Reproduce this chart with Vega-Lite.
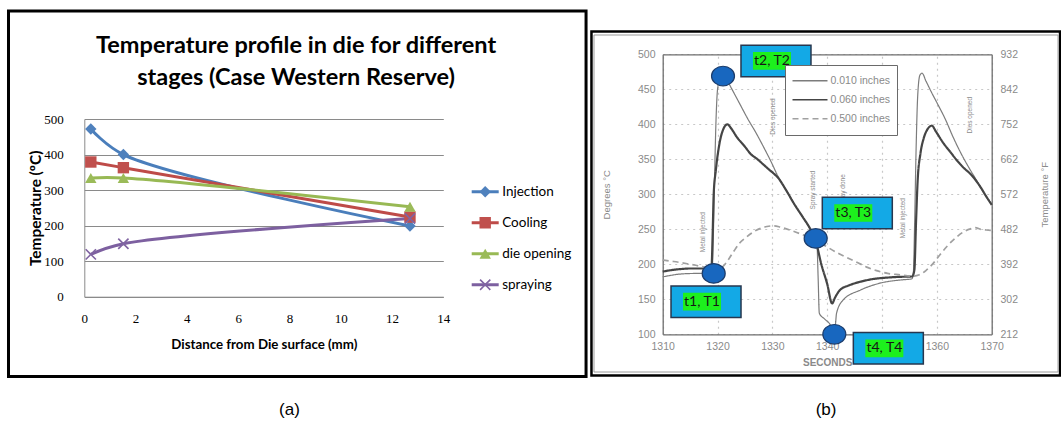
{
"$schema":"https://vega.github.io/schema/vega-lite/v6.json",
"width":1061,"height":446,"autosize":{"type":"none"},"padding":0,"background":"#ffffff",
"config":{"view":{"stroke":null},"axis":{"labelOverlap":false,"labelFlush":false,"labelBound":false}},
"datasets":{
"one":[{"k":1}],
"titleA":[{"title":"Temperature profile in die for different\nstages (Case Western Reserve)"}],
"capA":[{"caption":"(a)"}],
"capB":[{"caption":"(b)"}],
"profileA":[
{"stage":"Injection","distance_mm":0.254,"temperature_C":472},
{"stage":"Injection","distance_mm":1.524,"temperature_C":400},
{"stage":"Injection","distance_mm":12.7,"temperature_C":199},
{"stage":"Cooling","distance_mm":0.254,"temperature_C":379},
{"stage":"Cooling","distance_mm":1.524,"temperature_C":363},
{"stage":"Cooling","distance_mm":12.7,"temperature_C":224},
{"stage":"die opening","distance_mm":0.254,"temperature_C":334},
{"stage":"die opening","distance_mm":1.524,"temperature_C":334},
{"stage":"die opening","distance_mm":12.7,"temperature_C":253},
{"stage":"spraying","distance_mm":0.254,"temperature_C":119},
{"stage":"spraying","distance_mm":1.524,"temperature_C":149},
{"stage":"spraying","distance_mm":12.7,"temperature_C":220}
],
"cycleB":[
{"depth":"0.010 inches","seconds":1310,"temperature_C":182},
{"depth":"0.010 inches","seconds":1311,"temperature_C":183.5},
{"depth":"0.010 inches","seconds":1312.5,"temperature_C":185.5},
{"depth":"0.010 inches","seconds":1314,"temperature_C":186.5},
{"depth":"0.010 inches","seconds":1316,"temperature_C":187},
{"depth":"0.010 inches","seconds":1318.5,"temperature_C":187.5},
{"depth":"0.010 inches","seconds":1319.0,"temperature_C":189},
{"depth":"0.010 inches","seconds":1319.2,"temperature_C":230},
{"depth":"0.010 inches","seconds":1319.45,"temperature_C":320},
{"depth":"0.010 inches","seconds":1319.7,"temperature_C":400},
{"depth":"0.010 inches","seconds":1320.0,"temperature_C":450},
{"depth":"0.010 inches","seconds":1320.4,"temperature_C":466},
{"depth":"0.010 inches","seconds":1320.9,"temperature_C":471},
{"depth":"0.010 inches","seconds":1321.4,"temperature_C":468},
{"depth":"0.010 inches","seconds":1322.5,"temperature_C":452},
{"depth":"0.010 inches","seconds":1324,"temperature_C":430},
{"depth":"0.010 inches","seconds":1325.5,"temperature_C":408},
{"depth":"0.010 inches","seconds":1327,"temperature_C":388},
{"depth":"0.010 inches","seconds":1328.5,"temperature_C":366},
{"depth":"0.010 inches","seconds":1329.8,"temperature_C":346},
{"depth":"0.010 inches","seconds":1331,"temperature_C":326},
{"depth":"0.010 inches","seconds":1332.5,"temperature_C":306},
{"depth":"0.010 inches","seconds":1334,"temperature_C":286},
{"depth":"0.010 inches","seconds":1335.5,"temperature_C":268},
{"depth":"0.010 inches","seconds":1336.8,"temperature_C":252},
{"depth":"0.010 inches","seconds":1338.1,"temperature_C":234},
{"depth":"0.010 inches","seconds":1338.35,"temperature_C":180},
{"depth":"0.010 inches","seconds":1338.56,"temperature_C":130},
{"depth":"0.010 inches","seconds":1339.5,"temperature_C":122},
{"depth":"0.010 inches","seconds":1340.6,"temperature_C":113},
{"depth":"0.010 inches","seconds":1341.1,"temperature_C":104},
{"depth":"0.010 inches","seconds":1341.5,"temperature_C":114},
{"depth":"0.010 inches","seconds":1341.7,"temperature_C":130},
{"depth":"0.010 inches","seconds":1342.9,"temperature_C":149},
{"depth":"0.010 inches","seconds":1346,"temperature_C":163},
{"depth":"0.010 inches","seconds":1349.6,"temperature_C":173},
{"depth":"0.010 inches","seconds":1353.9,"temperature_C":178},
{"depth":"0.010 inches","seconds":1355.4,"temperature_C":179},
{"depth":"0.010 inches","seconds":1355.7,"temperature_C":186},
{"depth":"0.010 inches","seconds":1355.95,"temperature_C":260},
{"depth":"0.010 inches","seconds":1356.2,"temperature_C":360},
{"depth":"0.010 inches","seconds":1356.5,"temperature_C":440},
{"depth":"0.010 inches","seconds":1356.9,"temperature_C":470},
{"depth":"0.010 inches","seconds":1357.3,"temperature_C":473},
{"depth":"0.010 inches","seconds":1358,"temperature_C":462},
{"depth":"0.010 inches","seconds":1359,"temperature_C":446},
{"depth":"0.010 inches","seconds":1360,"temperature_C":431},
{"depth":"0.010 inches","seconds":1361.5,"temperature_C":408},
{"depth":"0.010 inches","seconds":1363,"temperature_C":381},
{"depth":"0.010 inches","seconds":1364.5,"temperature_C":357},
{"depth":"0.010 inches","seconds":1366,"temperature_C":336},
{"depth":"0.010 inches","seconds":1367,"temperature_C":323},
{"depth":"0.010 inches","seconds":1367.9,"temperature_C":311},
{"depth":"0.010 inches","seconds":1369,"temperature_C":297},
{"depth":"0.010 inches","seconds":1370,"temperature_C":285},
{"depth":"0.060 inches","seconds":1310,"temperature_C":189.5},
{"depth":"0.060 inches","seconds":1311,"temperature_C":191},
{"depth":"0.060 inches","seconds":1313,"temperature_C":193},
{"depth":"0.060 inches","seconds":1315,"temperature_C":194},
{"depth":"0.060 inches","seconds":1318.5,"temperature_C":194},
{"depth":"0.060 inches","seconds":1318.9,"temperature_C":196},
{"depth":"0.060 inches","seconds":1319.1,"temperature_C":240},
{"depth":"0.060 inches","seconds":1319.3,"temperature_C":300},
{"depth":"0.060 inches","seconds":1319.7,"temperature_C":335},
{"depth":"0.060 inches","seconds":1320.3,"temperature_C":370},
{"depth":"0.060 inches","seconds":1320.9,"temperature_C":390},
{"depth":"0.060 inches","seconds":1321.8,"temperature_C":400},
{"depth":"0.060 inches","seconds":1322.5,"temperature_C":394},
{"depth":"0.060 inches","seconds":1323.5,"temperature_C":382},
{"depth":"0.060 inches","seconds":1325,"temperature_C":368},
{"depth":"0.060 inches","seconds":1326,"temperature_C":358},
{"depth":"0.060 inches","seconds":1327.3,"temperature_C":350},
{"depth":"0.060 inches","seconds":1328.3,"temperature_C":343},
{"depth":"0.060 inches","seconds":1329.3,"temperature_C":336},
{"depth":"0.060 inches","seconds":1330.2,"temperature_C":330},
{"depth":"0.060 inches","seconds":1331,"temperature_C":324},
{"depth":"0.060 inches","seconds":1332.5,"temperature_C":306},
{"depth":"0.060 inches","seconds":1334,"temperature_C":286},
{"depth":"0.060 inches","seconds":1335.5,"temperature_C":268},
{"depth":"0.060 inches","seconds":1336.8,"temperature_C":252},
{"depth":"0.060 inches","seconds":1337.8,"temperature_C":236},
{"depth":"0.060 inches","seconds":1339,"temperature_C":198},
{"depth":"0.060 inches","seconds":1340,"temperature_C":172},
{"depth":"0.060 inches","seconds":1340.9,"temperature_C":144},
{"depth":"0.060 inches","seconds":1341.4,"temperature_C":152},
{"depth":"0.060 inches","seconds":1342.3,"temperature_C":163},
{"depth":"0.060 inches","seconds":1344,"temperature_C":170},
{"depth":"0.060 inches","seconds":1346,"temperature_C":175},
{"depth":"0.060 inches","seconds":1348.4,"temperature_C":179},
{"depth":"0.060 inches","seconds":1350.9,"temperature_C":181},
{"depth":"0.060 inches","seconds":1353,"temperature_C":182},
{"depth":"0.060 inches","seconds":1355.5,"temperature_C":182.6},
{"depth":"0.060 inches","seconds":1355.9,"temperature_C":192},
{"depth":"0.060 inches","seconds":1356.2,"temperature_C":260},
{"depth":"0.060 inches","seconds":1356.5,"temperature_C":320},
{"depth":"0.060 inches","seconds":1357,"temperature_C":358},
{"depth":"0.060 inches","seconds":1357.6,"temperature_C":380},
{"depth":"0.060 inches","seconds":1358.3,"temperature_C":393},
{"depth":"0.060 inches","seconds":1359.1,"temperature_C":398},
{"depth":"0.060 inches","seconds":1359.8,"temperature_C":390},
{"depth":"0.060 inches","seconds":1361.2,"temperature_C":373},
{"depth":"0.060 inches","seconds":1362.5,"temperature_C":360},
{"depth":"0.060 inches","seconds":1363.6,"temperature_C":349},
{"depth":"0.060 inches","seconds":1365,"temperature_C":337},
{"depth":"0.060 inches","seconds":1366,"temperature_C":330},
{"depth":"0.060 inches","seconds":1367,"temperature_C":321},
{"depth":"0.060 inches","seconds":1367.9,"temperature_C":311},
{"depth":"0.060 inches","seconds":1369,"temperature_C":297},
{"depth":"0.060 inches","seconds":1370,"temperature_C":285},
{"depth":"0.500 inches","seconds":1310,"temperature_C":206},
{"depth":"0.500 inches","seconds":1312,"temperature_C":204},
{"depth":"0.500 inches","seconds":1315,"temperature_C":200},
{"depth":"0.500 inches","seconds":1317,"temperature_C":197},
{"depth":"0.500 inches","seconds":1318.6,"temperature_C":194},
{"depth":"0.500 inches","seconds":1320,"temperature_C":194},
{"depth":"0.500 inches","seconds":1321,"temperature_C":197},
{"depth":"0.500 inches","seconds":1322,"temperature_C":207},
{"depth":"0.500 inches","seconds":1323,"temperature_C":219},
{"depth":"0.500 inches","seconds":1324,"temperature_C":230},
{"depth":"0.500 inches","seconds":1325.3,"temperature_C":239},
{"depth":"0.500 inches","seconds":1326.5,"temperature_C":246},
{"depth":"0.500 inches","seconds":1327.7,"temperature_C":251},
{"depth":"0.500 inches","seconds":1329,"temperature_C":254},
{"depth":"0.500 inches","seconds":1330.2,"temperature_C":255},
{"depth":"0.500 inches","seconds":1331.5,"temperature_C":253},
{"depth":"0.500 inches","seconds":1333.2,"temperature_C":249},
{"depth":"0.500 inches","seconds":1335.6,"temperature_C":242},
{"depth":"0.500 inches","seconds":1337.5,"temperature_C":236},
{"depth":"0.500 inches","seconds":1339.3,"temperature_C":228},
{"depth":"0.500 inches","seconds":1341.7,"temperature_C":217},
{"depth":"0.500 inches","seconds":1343.5,"temperature_C":210},
{"depth":"0.500 inches","seconds":1345.4,"temperature_C":203},
{"depth":"0.500 inches","seconds":1347.2,"temperature_C":196},
{"depth":"0.500 inches","seconds":1349,"temperature_C":191},
{"depth":"0.500 inches","seconds":1351,"temperature_C":187},
{"depth":"0.500 inches","seconds":1353.3,"temperature_C":185},
{"depth":"0.500 inches","seconds":1355.5,"temperature_C":183},
{"depth":"0.500 inches","seconds":1356.8,"temperature_C":185},
{"depth":"0.500 inches","seconds":1358,"temperature_C":191},
{"depth":"0.500 inches","seconds":1359.3,"temperature_C":201},
{"depth":"0.500 inches","seconds":1360.6,"temperature_C":214},
{"depth":"0.500 inches","seconds":1362,"temperature_C":227},
{"depth":"0.500 inches","seconds":1363.6,"temperature_C":239},
{"depth":"0.500 inches","seconds":1365,"temperature_C":247},
{"depth":"0.500 inches","seconds":1366.3,"temperature_C":251},
{"depth":"0.500 inches","seconds":1367,"temperature_C":252.5},
{"depth":"0.500 inches","seconds":1368,"temperature_C":250},
{"depth":"0.500 inches","seconds":1369,"temperature_C":249},
{"depth":"0.500 inches","seconds":1370,"temperature_C":248.5}
],
"events":[
{"event":"t1, T1","seconds":1319.3,"temperature_C":187,"box_seconds":1317.9,"box_temperature_C":146.6,"label_seconds":1317.17},
{"event":"t2, T2","seconds":1321.0,"temperature_C":469,"box_seconds":1330.66,"box_temperature_C":490.6,"label_seconds":1329.93},
{"event":"t3, T3","seconds":1337.9,"temperature_C":237,"box_seconds":1345.49,"box_temperature_C":273.3,"label_seconds":1344.76},
{"event":"t4, T4","seconds":1341.3,"temperature_C":100,"box_seconds":1351.15,"box_temperature_C":79.9,"label_seconds":1350.42}
],
"notes":[
{"note":"Metal injected","seconds":1317.4,"temperature_C":246},
{"note":"Dies opened","seconds":1330.1,"temperature_C":411},
{"note":"Spray started","seconds":1337.4,"temperature_C":306},
{"note":"Spray done","seconds":1342.8,"temperature_C":305},
{"note":"Metal injected","seconds":1353.9,"temperature_C":266},
{"note":"Dies opened","seconds":1366.0,"temperature_C":413}
]
},
"layer":[
{
"layer":[
{"data":{"name":"profileA"},"mark":{"type":"line","interpolate":"catmull-rom","strokeWidth":3},
 "encoding":{
  "x":{"field":"distance_mm","type":"quantitative","scale":{"domain":[0,14],"range":[84.3,443.3],"nice":false,"zero":false},
   "axis":{"orient":"bottom","offset":-149.3,"values":[0,2,4,6,8,10,12,14],"format":"d","grid":false,"domain":true,"domainColor":"#8a8a8a","domainWidth":1,"ticks":false,"tickSize":0,"labelPadding":15.5,"labelFont":"Liberation Serif","labelFontSize":13,"labelColor":"#000000","labelAngle":0,"title":"Distance from Die surface (mm)","titleFont":"Lato","titleFontWeight":"bold","titleFontSize":13.3,"titleColor":"#000000","titlePadding":12}},
  "y":{"field":"temperature_C","type":"quantitative","scale":{"domain":[0,500],"range":[296.7,119],"nice":false,"zero":false},
   "axis":{"orient":"left","offset":-84.3,"values":[0,100,200,300,400,500],"format":"d","grid":true,"gridColor":"#8a8a8a","gridWidth":1,"domain":true,"domainColor":"#8a8a8a","ticks":false,"tickSize":0,"labelPadding":21,"labelFont":"Liberation Serif","labelFontSize":13,"labelColor":"#000000","title":"Temperature (ºC)","titleFont":"Lato","titleFontWeight":"bold","titleFontSize":15.4,"titleColor":"#000000","titlePadding":0}},
  "stroke":{"field":"stage","type":"nominal","scale":{"domain":["Injection","Cooling","die opening","spraying"],"range":["#4a7ebb","#be4b48","#98b954","#7d60a0"]},
   "legend":{"orient":"none","legendX":470.2,"legendY":176.55,"title":null,"padding":0,"symbolType":"stroke","symbolSize":729,"symbolStrokeWidth":3,"clipHeight":30.3,"rowPadding":0,"labelOffset":2,"labelFont":"Lato","labelFontSize":13.5,"labelColor":"#000000"}}
 }},
{"data":{"name":"profileA"},"mark":{"type":"point","filled":true,"size":130,"opacity":1,"strokeWidth":0},
 "encoding":{
  "x":{"field":"distance_mm","type":"quantitative"},
  "y":{"field":"temperature_C","type":"quantitative"},
  "fill":{"field":"stage","type":"nominal","scale":{"domain":["Injection","Cooling","die opening","spraying"],"range":["#4f81bd","#c0504d","#9bbb59","#8064a2"]},
   "legend":{"orient":"none","legendX":478.45,"legendY":176.55,"title":null,"padding":0,"symbolSize":130,"symbolStrokeWidth":0,"clipHeight":30.3,"rowPadding":0,"labelExpr":"''","labelFont":"Lato","labelFontSize":13.5}},
  "shape":{"field":"stage","type":"nominal","scale":{"domain":["Injection","Cooling","die opening","spraying"],"range":["diamond","square","triangle-up","M-1,-0.8L-0.8,-1L0,-0.2L0.8,-1L1,-0.8L0.2,0L1,0.8L0.8,1L0,0.2L-0.8,1L-1,0.8L-0.2,0Z"]},
   "legend":{"orient":"none","legendX":478.45,"legendY":176.55,"title":null,"padding":0,"symbolSize":130,"symbolStrokeWidth":0,"clipHeight":30.3,"rowPadding":0,"labelExpr":"''","labelFont":"Lato","labelFontSize":13.5}}
 }},
{"data":{"name":"one"},"mark":{"type":"rect","filled":false,"stroke":"#000000","strokeWidth":3},
 "encoding":{"x":{"datum":-2.956,"type":"quantitative"},"x2":{"datum":19.567},"y":{"datum":803.9,"type":"quantitative"},"y2":{"datum":-224.5}}},
{"data":{"name":"titleA"},"mark":{"type":"text","font":"Lato","fontWeight":"bold","fontSize":23.5,"lineBreak":"\n","lineHeight":31.7,"align":"center","baseline":"alphabetic","color":"#000000"},
 "encoding":{"x":{"datum":8.26,"type":"quantitative"},"y":{"datum":684.9,"type":"quantitative"},"text":{"field":"title"}}},
{"data":{"name":"capA"},"mark":{"type":"text","font":"Liberation Sans","fontSize":17,"align":"center","baseline":"middle","color":"#000000"},
 "encoding":{"x":{"datum":8,"type":"quantitative"},"y":{"datum":-318.8,"type":"quantitative"},"text":{"field":"caption"}}}
],
"resolve":{"legend":{"stroke":"independent","fill":"independent","shape":"independent"}}
},
{
"layer":[
 {"layer":[
  {"data":{"name":"cycleB"},"mark":{"type":"line","interpolate":"monotone"},
   "encoding":{
    "x":{"field":"seconds","type":"quantitative","scale":{"domain":[1310,1370],"range":[662.7,991.7],"nice":false,"zero":false},
     "axis":{"orient":"bottom","offset":-111.7,"values":[1310,1320,1330,1340,1360,1370],"format":"d","grid":false,"domain":true,"domainColor":"#6e6e6e","domainWidth":1.3,"ticks":false,"tickSize":0,"labelPadding":7,"labelFont":"Liberation Sans","labelFontSize":10.5,"labelColor":"#8a8a8a","labelAngle":0,"title":"SECONDS","titleFont":"Liberation Sans","titleFontWeight":"bold","titleFontSize":10,"titleColor":"#8a8a8a","titlePadding":6}},
    "y":{"field":"temperature_C","type":"quantitative","scale":{"domain":[100,500],"range":[334.3,54.3],"nice":false,"zero":false},
     "axis":{"orient":"left","offset":-662.7,"values":[100,150,200,250,300,350,400,450,500],"format":"d","grid":true,"gridColor":"#c8c8c8","gridDash":[2,4],"gridWidth":1.2,"domain":true,"domainColor":"#6e6e6e","domainWidth":1.3,"ticks":false,"tickSize":0,"labelPadding":7.7,"labelFont":"Liberation Sans","labelFontSize":10.5,"labelColor":"#8a8a8a","title":"Degrees °C","titleFont":"Liberation Sans","titleFontWeight":"normal","titleFontSize":9.5,"titleColor":"#8a8a8a","titlePadding":26}},
    "color":{"field":"depth","type":"nominal","scale":{"domain":["0.010 inches","0.060 inches","0.500 inches"],"range":["#7c7c7c","#454545","#a0a0a0"]},
     "legend":{"orient":"none","legendX":785,"legendY":65,"title":null,"padding":6.5,"strokeColor":"#6a6a6a","fillColor":"#ffffff","symbolType":"stroke","symbolSize":1225,"symbolStrokeWidth":1.5,"clipHeight":18.3,"rowPadding":0,"labelOffset":2,"labelFont":"Liberation Sans","labelFontSize":10.5,"labelColor":"#8a8a8a"}},
    "strokeDash":{"field":"depth","type":"nominal","scale":{"domain":["0.010 inches","0.060 inches","0.500 inches"],"range":[[1,0],[1,0],[6,4]]},
     "legend":{"orient":"none","legendX":785,"legendY":65,"title":null,"padding":6.5,"strokeColor":"#6a6a6a","fillColor":"#ffffff","symbolType":"stroke","symbolSize":1225,"symbolStrokeWidth":1.5,"clipHeight":18.3,"rowPadding":0,"labelOffset":2,"labelFont":"Liberation Sans","labelFontSize":10.5,"labelColor":"#8a8a8a"}},
    "strokeWidth":{"field":"depth","type":"nominal","scale":{"type":"point","domain":["0.010 inches","0.500 inches","0.060 inches"],"range":[1.2,2.2],"padding":0},"legend":null}
   }},
  {"data":{"name":"one"},"mark":{"type":"rect","filled":false,"stroke":"#000000","strokeWidth":2.5},
   "encoding":{"x":{"datum":1297.01,"type":"quantitative"},"x2":{"datum":1382.46},"y":{"datum":532.57,"type":"quantitative"},"y2":{"datum":41.14}}},
  {"data":{"name":"one"},"mark":{"type":"rect","filled":false,"stroke":"#9a9a9a","strokeWidth":1},
   "encoding":{"x":{"datum":1297.47,"type":"quantitative"},"x2":{"datum":1382.1},"y":{"datum":527.57,"type":"quantitative"},"y2":{"datum":46.14}}},
  {"data":{"name":"notes"},"mark":{"type":"text","angle":270,"font":"Liberation Sans","fontSize":6.5,"color":"#8a8a8a","align":"center","baseline":"middle"},
   "encoding":{"x":{"field":"seconds","type":"quantitative"},"y":{"field":"temperature_C","type":"quantitative"},"text":{"field":"note"}}},
  {"data":{"name":"events"},"mark":{"type":"point","shape":"M-1,0A1,0.85,0,1,1,1,0A1,0.85,0,1,1,-1,0Z","size":529,"filled":true,"fill":"#1867bf","stroke":"#1d3d6b","strokeWidth":1.2,"opacity":1},
   "encoding":{"x":{"field":"seconds","type":"quantitative"},"y":{"field":"temperature_C","type":"quantitative"}}},
  {"data":{"name":"events"},"mark":{"type":"point","shape":"M-1,-0.45L1,-0.45L1,0.45L-1,0.45Z","size":4900,"filled":true,"fill":"#13a9e6","stroke":"#27374f","strokeWidth":1.5,"opacity":1},
   "encoding":{"x":{"field":"box_seconds","type":"quantitative"},"y":{"field":"box_temperature_C","type":"quantitative"}}},
  {"data":{"name":"events"},"mark":{"type":"point","shape":"M-1,-0.465L1,-0.465L1,0.465L-1,0.465Z","size":1444,"filled":true,"fill":"#1df01d","strokeWidth":0,"opacity":1},
   "encoding":{"x":{"field":"label_seconds","type":"quantitative"},"y":{"field":"box_temperature_C","type":"quantitative"}}},
  {"data":{"name":"events"},"mark":{"type":"text","font":"Lato","fontSize":14,"color":"#161616","align":"center","baseline":"middle"},
   "encoding":{"x":{"field":"label_seconds","type":"quantitative"},"y":{"field":"box_temperature_C","type":"quantitative"},"text":{"field":"event"}}},
  {"data":{"name":"capB"},"mark":{"type":"text","font":"Liberation Sans","fontSize":17,"align":"center","baseline":"middle","color":"#000000"},
   "encoding":{"x":{"datum":1339.8,"type":"quantitative"},"y":{"datum":-8.14,"type":"quantitative"},"text":{"field":"caption"}}}
 ]},
 {"data":{"name":"one"},"mark":{"type":"point","opacity":0},
  "encoding":{"y":{"datum":572,"type":"quantitative","scale":{"domain":[212,932],"range":[334.3,54.3],"nice":false,"zero":false},
   "axis":{"orient":"right","offset":-69.3,"values":[212,302,392,482,572,662,752,842,932],"format":"d","grid":false,"domain":true,"domainColor":"#6e6e6e","domainWidth":1.3,"ticks":false,"tickSize":0,"labelPadding":8.3,"labelFont":"Liberation Sans","labelFontSize":10.5,"labelColor":"#8a8a8a","title":"Temperature °F","titleAngle":270,"titleFont":"Liberation Sans","titleFontWeight":"normal","titleFontSize":9.5,"titleColor":"#8a8a8a","titlePadding":32}}}},
 {"data":{"name":"one"},"mark":{"type":"point","opacity":0},
  "encoding":{
   "x":{"datum":1340,"type":"quantitative","scale":{"domain":[1310,1370],"range":[662.7,991.7],"nice":false,"zero":false},
    "axis":{"orient":"top","offset":-54.3,"values":[1310,1320,1330,1340,1350,1360,1370],"labels":false,"ticks":false,"tickSize":0,"domain":true,"domainColor":"#6e6e6e","domainWidth":1.3,"grid":true,"gridColor":"#c8c8c8","gridDash":[2,4],"gridWidth":1.2,"title":null}},
   "y":{"datum":300,"type":"quantitative","scale":{"domain":[100,500],"range":[334.3,54.3],"nice":false,"zero":false},"axis":null}}}
],
"resolve":{"scale":{"x":"independent","y":"independent"}}
}
],
"resolve":{"scale":{"x":"independent","y":"independent"}}
}
